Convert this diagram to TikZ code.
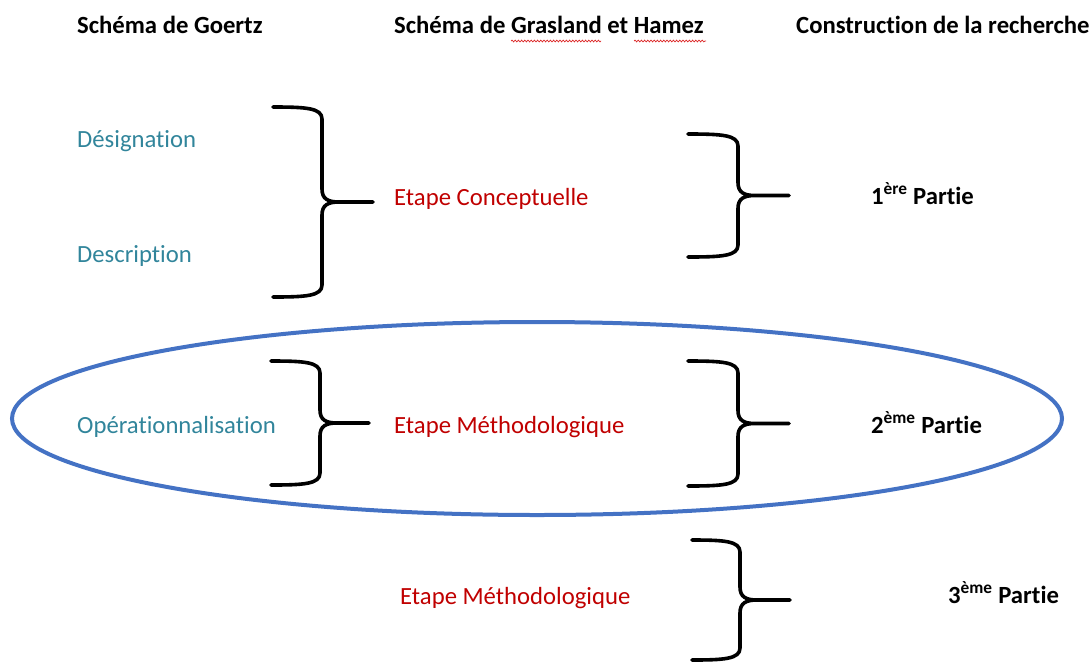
\documentclass[tikz,border=0pt]{standalone}
\usepackage{fontspec}
\setmainfont{Carlito}[Ligatures=NoCommon]
\usetikzlibrary{decorations.pathmorphing}
\definecolor{goertzteal}{RGB}{49, 133, 155}
\definecolor{etapered}{RGB}{192, 0, 0}
\definecolor{ovalblue}{RGB}{68, 114, 196}
\definecolor{spellred}{RGB}{220, 40, 40}

\tikzset{
  texte/.style={anchor=base west, inner sep=0pt, font=\fontsize{24.7}{29}\selectfont},
  titre/.style={texte, font=\fontsize{24.7}{29}\selectfont\bfseries},
  goertz/.style={texte, goertzteal},
  etape/.style={texte, etapered},
  partie/.style={texte, font=\fontsize{24.7}{29}\selectfont\bfseries},
  accol/.style={black, line width=3.6, line cap=round, line join=round},
  spell/.style={spellred, line width=0.7, decorate,
    decoration={snake, amplitude=0.9pt, segment length=3.2pt}}
}

% accolade: #1 bras, #2 dos, #3 pointe, #4 haut, #5 bas
\newcommand{\accolade}[5]{%
  \pgfmathsetmacro{\accmid}{(#4+#5)/2}
  \draw[accol] (#1,#4) .. controls ({#2-16},#4) and (#2,{#4+1}) .. (#2,{#4+12})
    -- (#2,{\accmid-13}) .. controls (#2,{\accmid-3}) and ({#2+6},\accmid) .. ({#2+17},\accmid)
    -- (#3,\accmid) -- ({#2+17},\accmid)
    .. controls ({#2+6},\accmid) and (#2,{\accmid+3}) .. (#2,{\accmid+13})
    -- (#2,{#5-12}) .. controls (#2,{#5-1}) and ({#2-16},#5) .. (#1,#5);
}

\begin{document}
\begin{tikzpicture}[x=1pt, y=-1pt]
  \useasboundingbox (0,0) rectangle (1092,662);

  % en-tetes des trois colonnes
  \node[titre] (titreGoertz)  at (77,33)  {Schéma de Goertz};
  \node[titre] (titreGrasland) at (394,33) {Schéma de Grasland et Hamez};
  \node[titre] (titreRecherche) at (796,33) {Construction de la recherche};
  \draw[spell] (511,41) -- (601,41);
  \draw[spell] (634,41) -- (706,41);

  % ellipse autour de la deuxieme ligne
  \draw[ovalblue, line width=4] (537,418.5) ellipse [x radius=525pt, y radius=96.5pt];

  % colonne Goertz
  \node[goertz] (designation) at (77,147) {Désignation};
  \node[goertz] (description) at (77,262) {Description};
  \node[goertz] (operation)   at (77,433) {Opérationnalisation};

  % colonne Grasland et Hamez
  \node[etape] (conceptuelle) at (394,205) {Etape Conceptuelle};
  \node[etape] (methodo)      at (394,433) {Etape Méthodologique};
  \node[etape] (methodoBis)   at (400,604) {Etape Méthodologique};

  % colonne recherche
  \node[partie] (partieUn)    at (871,204) {1\textsuperscript{ère} Partie};
  \node[partie] (partieDeux)  at (871,433) {2\textsuperscript{ème} Partie};
  \node[partie] (partieTrois) at (948,603) {3\textsuperscript{ème} Partie};

  % accolades
  \accolade{273}{322}{373}{107}{297}
  \accolade{688}{738}{789}{134}{257}
  \accolade{271}{320}{369}{361}{485}
  \accolade{688}{738}{789}{361}{486}
  \accolade{692}{740}{790}{540}{660}
\end{tikzpicture}
\end{document}
